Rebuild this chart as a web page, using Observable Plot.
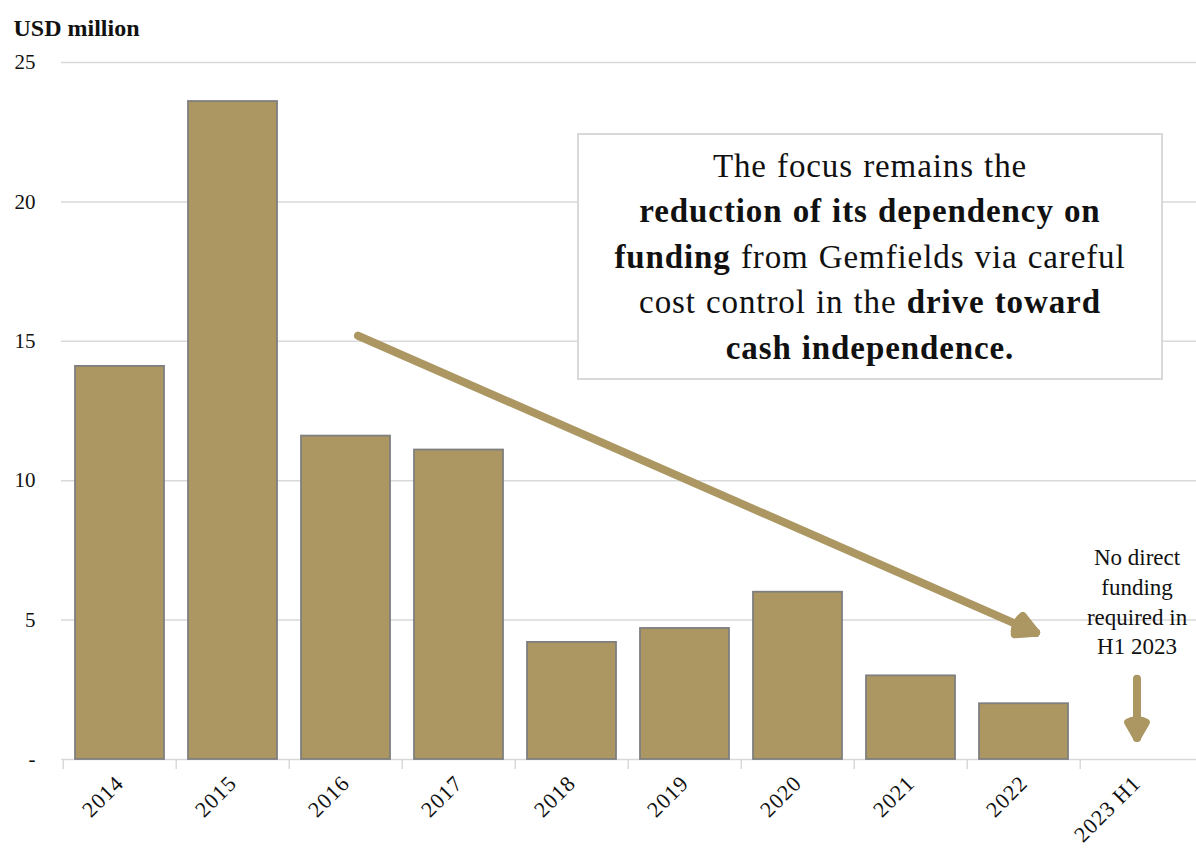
<!DOCTYPE html>
<html><head><meta charset="utf-8">
<script src="https://cdn.jsdelivr.net/npm/d3@7"></script>
<script src="https://cdn.jsdelivr.net/npm/@observablehq/plot@0.6"></script>
<style>
body{margin:0;background:#fff;}
#wrap{position:relative;width:1196px;height:849px;overflow:hidden;font-family:"Liberation Serif","DejaVu Serif",serif;}
#box{position:absolute;left:577px;top:133px;width:586px;height:247px;box-sizing:border-box;border:2px solid #d9d9d9;background:#fff;text-align:center;font-size:33px;line-height:45.5px;letter-spacing:0.9px;word-spacing:1px;color:#111;display:flex;align-items:center;justify-content:center;padding-top:2px;}
#box b{font-weight:bold;}
#chart svg g[aria-label^="x-axis"] text{font-size:22px;letter-spacing:1px;}
#chart svg g[aria-label^="y-axis"] text{font-size:21px;}
</style></head>
<body>
<div id="wrap"><div id="chart"></div>
<div id="box"><div>The focus remains the<br><b>reduction of its dependency on</b><br><b>funding</b> from Gemfields via careful<br>cost control in the <b>drive toward</b><br><b>cash independence.</b></div></div>
</div>
<script>
const categories = ["2014","2015","2016","2017","2018","2019","2020","2021","2022","2023 H1"];
const values = [14.1, 23.6, 11.6, 11.1, 4.2, 4.7, 6.0, 3.0, 2.0, 0];
const yTicks = [0, 5, 10, 15, 20, 25];
const yTickLabels = ["-", "5", "10", "15", "20", "25"];
const unitLabel = "USD million";
const noteText = "No direct\nfunding\nrequired in\nH1 2023";
const trendArrow = [{from: "2016", to: "2022", y1: 15.2, y2: 4.55}];
const downArrow = [{from: "2023 H1", to: "2023 H1", y1: 2.9, y2: 0.78}];
const noteAnchor = [{at: "2023 H1", y: 5.72}];
const fillAngles = [40, 24, 10];

const bars = categories.map((c, i) => ({category: c, value: values[i]})).filter(d => d.value > 0);
const W = 1196, H = 849, ML = 61, MR = 0;
const step = (W - ML - MR) / categories.length;
const gold = "#ac9763";
const font = '"Liberation Serif","DejaVu Serif",serif';
const TREND_DX = 12;

const baseOptions = (marks) => ({
  width: W, height: H,
  marginLeft: ML, marginRight: MR, marginTop: 62, marginBottom: 90,
  style: {fontFamily: font, fontSize: "21px", color: "#111", background: "#fff"},
  x: {domain: categories, paddingInner: 0.21, paddingOuter: 0.105, label: null, tickSize: 0, tickPadding: 20, tickRotate: -45},
  y: {domain: [0, 25], ticks: yTicks, tickFormat: d => yTickLabels[yTicks.indexOf(d)], label: null, tickSize: 0, tickPadding: 26},
  marks
});

// first pass: read the scales to know each arrow's length on screen
const probe = Plot.plot(baseOptions([Plot.barY(bars, {x: "category", y: "value"})]));
const sx = probe.scale("x"), sy = probe.scale("y");
const px = c => sx.apply(c) + sx.bandwidth / 2;
const arrowLength = d => Math.hypot(px(d.to) - px(d.from), sy.apply(d.y2) - sy.apply(d.y1));

function arrowMarks(data, dx, headLength, angle) {
  const L = arrowLength(data[0]);
  const opts = {x1: "from", y1: "y1", x2: "to", y2: "y2", dx, stroke: gold, strokeWidth: 8, headLength, strokeLinejoin: "miter"};
  return [
    Plot.arrow(data, {...opts, headAngle: angle}),
    ...fillAngles.map(a => Plot.arrow(data, {...opts, headAngle: a, insetStart: Math.max(0, L - 3)}))
  ];
}

const chart = Plot.plot(baseOptions([
  Plot.ruleY(yTicks, {stroke: "#d9d9d9", strokeWidth: 1.5}),
  Plot.ruleX(categories, {x: d => d, y1: 0, y2: -0.36, dx: -step / 2, stroke: "#d9d9d9", strokeWidth: 1.5}),
  Plot.barY(bars, {x: "category", y: "value", fill: gold, stroke: "#7f7f7f", strokeWidth: 1.8}),
  ...arrowMarks(trendArrow, TREND_DX, 4.0, 56),
  ...arrowMarks(downArrow, 0, 3.3, 60),
  Plot.text(noteAnchor, {x: "at", y: "y", text: () => noteText, fontSize: 23, lineHeight: 1.3, lineAnchor: "middle", fill: "#111"}),
  Plot.text([unitLabel], {frameAnchor: "top-left", text: d => d, dx: -48, dy: -44, fontWeight: "bold", fontSize: 24, textAnchor: "start", fill: "#111"})
]));
document.getElementById("chart").appendChild(chart);
</script>
</body></html>
